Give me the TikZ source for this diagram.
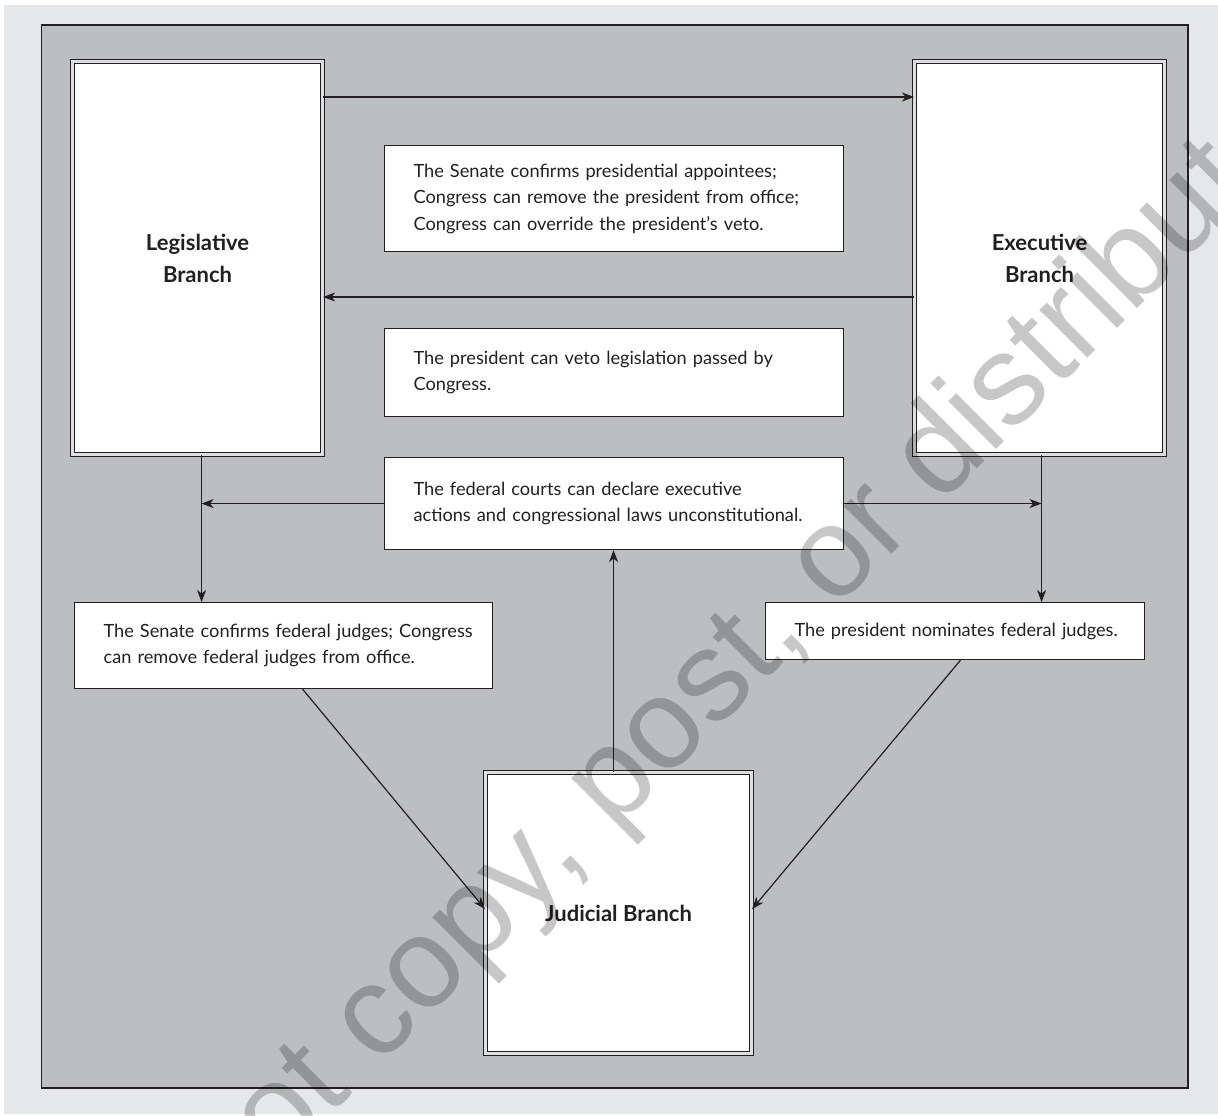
\documentclass[tikz,border=0pt]{standalone}
\usepackage{fontspec}
\setmainfont{Lato}
\newfontfamily\wmfont{Liberation Sans}
\usetikzlibrary{arrows.meta,calc}
\definecolor{pagebg}{RGB}{230,231,232}
\definecolor{framefill}{RGB}{188,190,192}
\definecolor{linec}{RGB}{35,31,32}
\definecolor{gapc}{RGB}{222,223,224}
\tikzset{
  txtbox/.style={draw=linec, line width=1.1pt, fill=white, inner xsep=29pt, inner ysep=0pt,
    align=left, text=linec, font=\fontsize{18.2}{26.5}\selectfont, anchor=north west},
  bigbox/.style={draw=linec, line width=1.1pt, double=gapc, double distance=3.6pt, fill=white,
    inner sep=0pt, align=center, text=linec, font=\bfseries\fontsize{22}{32}\selectfont, anchor=north west},
  arr/.style={draw=linec, line width=1.2pt, -{Stealth[length=12pt,width=9pt,inset=3.5pt]}},
  wmark/.style={rotate=45, text=black, opacity=0.22, font=\wmfont\fontsize{128}{128}\selectfont}
}
\begin{document}
\begin{tikzpicture}[x=1pt,y=-1pt]
\useasboundingbox (0,0) rectangle (1218,1116);
\fill[white] (0,0) rectangle (1218,1116);
\fill[pagebg] (4,5) rectangle (1218,1114);
\draw[draw=linec, line width=1.2pt, fill=framefill] (41.5,25) rectangle (1188,1088);

% big branch boxes
\node[bigbox, minimum width=250pt, minimum height=393pt] (leg) at (72,61) {Legislative\\Branch};
\node[bigbox, minimum width=250pt, minimum height=393pt] (exe) at (914,61) {Executive\\Branch};
\node[bigbox, minimum width=266pt, minimum height=281pt] (jud) at (485,772) {Judicial Branch};

% text boxes
\node[txtbox, text width=401pt, minimum height=106pt] (A) at (384,145)
  {\mbox{The Senate confirms presidential appointees;}\\\mbox{Congress can remove the president from office;}\\\mbox{Congress can override the president’s veto.}};
\node[txtbox, text width=401pt, minimum height=88pt] (B) at (384,328)
  {\mbox{The president can veto legislation passed by}\\\mbox{Congress.}};
\node[txtbox, text width=401pt, minimum height=92pt] (C) at (384,457)
  {\mbox{The federal courts can declare executive}\\\mbox{actions and congressional laws unconstitutional.}};
\node[txtbox, text width=360pt, minimum height=86pt] (D) at (74,602)
  {\mbox{The Senate confirms federal judges; Congress}\\\mbox{can remove federal judges from office.}};
\node[txtbox, text width=321pt, minimum height=57pt] (E) at (765,602)
  {\mbox{The president nominates federal judges.}};

% connectors
\draw[arr] ([yshift=-36pt]leg.north east) -- ([yshift=-36pt]exe.north west);
\draw[arr] ([yshift=-236pt]exe.north west) -- ([yshift=-236pt]leg.north east);

\coordinate (lv) at ([xshift=4pt]leg.south);
\coordinate (rv) at ([xshift=2pt]exe.south);
\draw[arr] (lv) -- (lv |- D.north);
\draw[arr] (rv) -- (rv |- E.north);
\draw[arr] (C.west) -- (C.west -| lv);
\draw[arr] (C.east) -- (C.east -| rv);

\draw[arr] ([xshift=-5pt]jud.north) -- ([xshift=-5pt]jud.north |- C.south);
\draw[arr] ([xshift=19pt]D.south) -- ([yshift=4pt]jud.west);
\draw[arr] ([xshift=5.5pt]E.south) -- ([yshift=4pt]jud.east);

% watermark
\node[wmark] (wm) at (674,725) {Do not copy, post, or distribute};
\end{tikzpicture}
\end{document}
